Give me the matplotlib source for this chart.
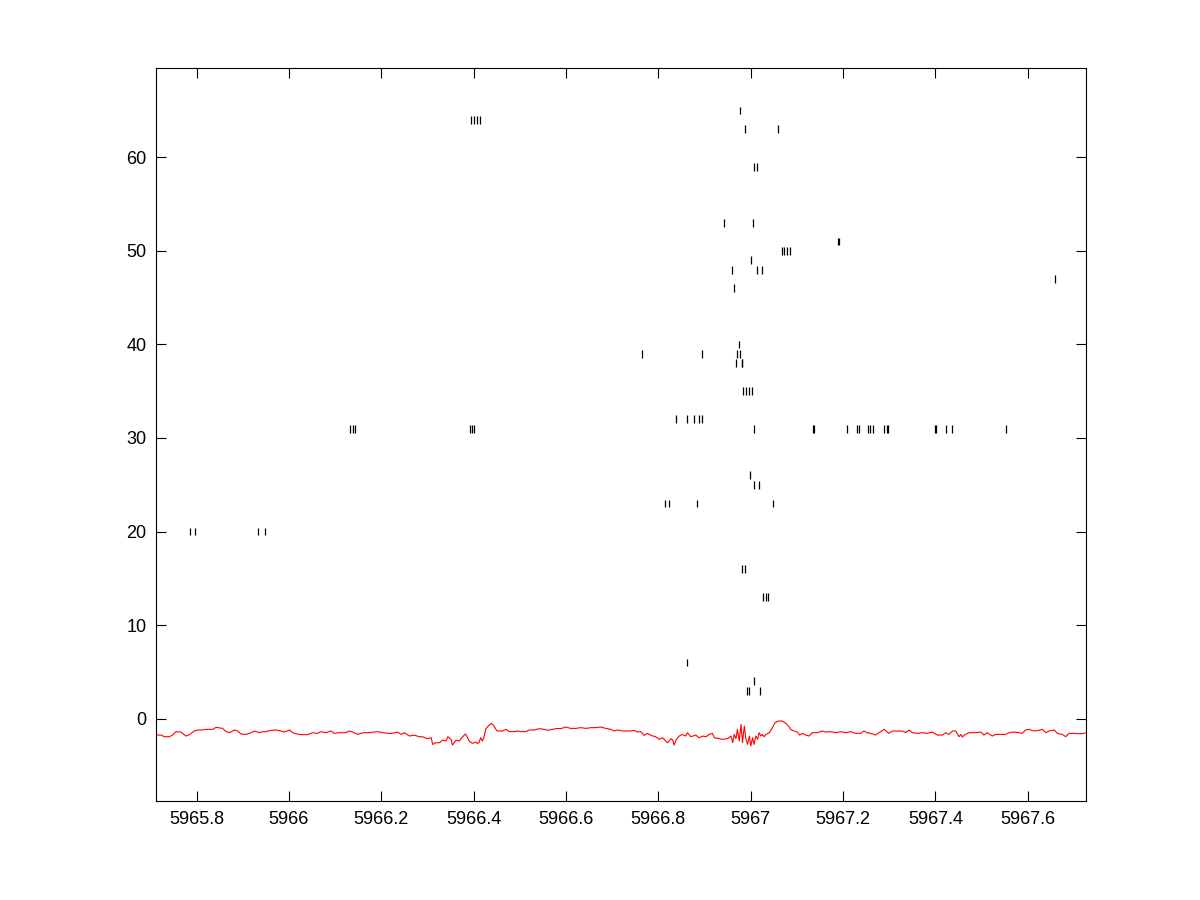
import matplotlib
matplotlib.use("Agg")
import matplotlib.pyplot as plt
from matplotlib.ticker import FuncFormatter

# Red spectrum trace (wavelength, value)
spec_w = [
    5965.712, 5965.723, 5965.730, 5965.741, 5965.748, 5965.755, 5965.766, 5965.777, 5965.784, 5965.795,
    5965.802, 5965.813, 5965.820, 5965.835, 5965.842, 5965.856, 5965.864, 5965.871, 5965.882, 5965.889,
    5965.896, 5965.907, 5965.918, 5965.925, 5965.936, 5965.943, 5965.950, 5965.961, 5965.972, 5965.983,
    5965.990, 5966.001, 5966.008, 5966.015, 5966.026, 5966.040, 5966.051, 5966.062, 5966.069, 5966.080,
    5966.091, 5966.098, 5966.109, 5966.123, 5966.131, 5966.138, 5966.149, 5966.160, 5966.174, 5966.185,
    5966.192, 5966.203, 5966.214, 5966.224, 5966.235, 5966.243, 5966.250, 5966.261, 5966.271, 5966.282,
    5966.289, 5966.300, 5966.308, 5966.311, 5966.318, 5966.326, 5966.333, 5966.340, 5966.344, 5966.351,
    5966.354, 5966.362, 5966.369, 5966.376, 5966.382,
    5966.387, 5966.390, 5966.397, 5966.405, 5966.408, 5966.412, 5966.415, 5966.419, 5966.423, 5966.426,
    5966.430, 5966.433, 5966.439, 5966.444, 5966.448, 5966.451, 5966.462, 5966.470, 5966.477, 5966.488,
    5966.495, 5966.502, 5966.513, 5966.520, 5966.531, 5966.542, 5966.553, 5966.560, 5966.571, 5966.581,
    5966.589, 5966.599, 5966.610, 5966.621, 5966.632, 5966.643, 5966.654, 5966.664, 5966.675, 5966.686,
    5966.697, 5966.704, 5966.711, 5966.722, 5966.737, 5966.747, 5966.755, 5966.762, 5966.769, 5966.776,
    5966.784, 5966.794, 5966.802, 5966.809, 5966.816, 5966.820, 5966.827, 5966.831, 5966.834, 5966.839,
    5966.845, 5966.852, 5966.859, 5966.863, 5966.870, 5966.881, 5966.888, 5966.896, 5966.903, 5966.910,
    5966.917, 5966.921, 5966.928, 5966.939, 5966.950, 5966.957, 5966.961, 5966.964, 5966.968, 5966.971,
    5966.975, 5966.979, 5966.982, 5966.986, 5966.989, 5966.993, 5966.997, 5967.000, 5967.004, 5967.007,
    5967.011, 5967.015, 5967.018, 5967.022, 5967.025, 5967.029, 5967.033, 5967.040, 5967.047, 5967.053,
    5967.061, 5967.068, 5967.076, 5967.083, 5967.086, 5967.094, 5967.101, 5967.106, 5967.112, 5967.119,
    5967.126, 5967.133, 5967.144, 5967.155, 5967.162, 5967.173, 5967.184, 5967.195, 5967.206, 5967.216,
    5967.227, 5967.238, 5967.245, 5967.252, 5967.263, 5967.270, 5967.281, 5967.289, 5967.299, 5967.307,
    5967.317, 5967.328, 5967.336, 5967.343, 5967.350, 5967.361, 5967.372, 5967.382, 5967.393, 5967.404,
    5967.415, 5967.422, 5967.429, 5967.437, 5967.444, 5967.451, 5967.455, 5967.458, 5967.465, 5967.473,
    5967.487, 5967.498, 5967.505, 5967.512, 5967.523, 5967.530, 5967.541, 5967.552, 5967.559, 5967.570,
    5967.581, 5967.588, 5967.595, 5967.603, 5967.613, 5967.624, 5967.632, 5967.639, 5967.646, 5967.657,
    5967.664, 5967.675, 5967.682, 5967.689, 5967.700, 5967.707, 5967.718, 5967.726,
]
spec_v = [
    -1.75, -1.75, -1.93, -1.93, -1.75, -1.39, -1.43, -1.86, -1.71, -1.32,
    -1.21, -1.21, -1.14, -1.14, -0.93, -1.04, -1.39, -1.50, -1.21, -1.32,
    -1.64, -1.68, -1.50, -1.32, -1.50, -1.39, -1.39, -1.25, -1.21, -1.32,
    -1.43, -1.21, -1.50, -1.61, -1.71, -1.71, -1.50, -1.57, -1.39, -1.50,
    -1.32, -1.57, -1.50, -1.50, -1.32, -1.43, -1.68, -1.50, -1.50, -1.43,
    -1.39, -1.50, -1.57, -1.57, -1.43, -1.68, -1.50, -1.86, -1.75, -1.93,
    -1.93, -2.14, -2.04, -2.75, -2.57, -2.57, -2.29, -2.39, -1.93, -2.21,
    -2.82, -2.29, -2.39, -1.93, -1.64,
    -2.04, -2.39, -2.64, -2.50, -2.68, -2.50, -2.04, -2.39, -1.86, -1.14,
    -0.86, -0.71, -0.50, -0.79, -1.14, -1.32, -1.32, -1.14, -1.39, -1.39,
    -1.32, -1.39, -1.39, -1.21, -1.21, -1.07, -1.14, -1.25, -1.14, -1.04,
    -1.07, -0.89, -1.04, -1.04, -0.96, -1.04, -0.96, -0.96, -0.89, -1.04,
    -1.14, -1.32, -1.21, -1.32, -1.32, -1.25, -1.43, -1.39, -1.79, -1.57,
    -1.79, -1.93, -2.21, -2.04, -2.39, -2.57, -2.14, -2.29, -2.82, -2.21,
    -1.86, -1.68, -1.86, -1.50, -1.93, -1.75, -2.04, -1.86, -1.93, -1.68,
    -1.57, -2.04, -2.11, -2.21, -2.14, -1.86, -2.57, -1.68, -2.14, -1.14,
    -2.39, -0.61, -2.57, -0.79, -2.04, -2.75, -1.86, -2.93, -2.04, -2.75,
    -1.86, -2.21, -1.50, -1.86, -1.68, -1.93, -1.68, -1.50, -0.96, -0.40,
    -0.25, -0.25, -0.50, -0.86, -1.14, -1.32, -1.43, -1.75, -1.57, -1.75,
    -1.86, -1.50, -1.50, -1.32, -1.43, -1.39, -1.50, -1.39, -1.50, -1.39,
    -1.57, -1.57, -1.32, -1.50, -1.61, -1.75, -1.39, -1.14, -1.57, -1.32,
    -1.32, -1.32, -1.50, -1.21, -1.50, -1.57, -1.50, -1.57, -1.43, -1.75,
    -1.75, -1.50, -1.68, -1.32, -1.32, -1.93, -1.68, -1.96, -1.68, -1.50,
    -1.50, -1.43, -1.75, -1.50, -1.86, -1.68, -1.68, -1.68, -1.50, -1.43,
    -1.50, -1.57, -1.21, -1.14, -1.32, -1.25, -1.14, -1.50, -1.32, -1.21,
    -1.57, -1.68, -1.93, -1.57, -1.57, -1.61, -1.61, -1.50,
]

# Line-list marks: wavelength and row index
mark_w = [
    5966.977,
    5966.394, 5966.400, 5966.407, 5966.413,
    5966.987, 5967.059,
    5967.007, 5967.013,
    5966.942, 5967.005,
    5967.190, 5967.192,
    5967.068, 5967.073, 5967.079, 5967.084,
    5967.001,
    5966.959, 5967.014, 5967.024,
    5967.658,
    5966.964,
    5966.974,
    5966.764, 5966.894, 5966.970, 5966.976,
    5966.968, 5966.980, 5966.982,
    5966.983, 5966.990, 5966.996, 5967.003,
    5966.838, 5966.861, 5966.878, 5966.888, 5966.894,
    5966.132, 5966.138, 5966.143, 5966.391, 5966.396, 5966.401, 5967.007,
    5967.135, 5967.137, 5967.209, 5967.230, 5967.234, 5967.254, 5967.259, 5967.265,
    5967.288, 5967.295, 5967.297, 5967.398, 5967.402, 5967.423, 5967.436, 5967.552,
    5966.998,
    5967.007, 5967.018,
    5966.814, 5966.822, 5966.884, 5967.048,
    5965.786, 5965.796, 5965.933, 5965.947,
    5966.981, 5966.988,
    5967.026, 5967.032, 5967.037,
    5966.863,
    5967.007,
    5966.992, 5966.997, 5967.020,
]
mark_row = [
    65,
    64, 64, 64, 64,
    63, 63,
    59, 59,
    53, 53,
    51, 51,
    50, 50, 50, 50,
    49,
    48, 48, 48,
    47,
    46,
    40,
    39, 39, 39, 39,
    38, 38, 38,
    35, 35, 35, 35,
    32, 32, 32, 32, 32,
    31, 31, 31, 31, 31, 31, 31,
    31, 31, 31, 31, 31, 31, 31, 31,
    31, 31, 31, 31, 31, 31, 31, 31,
    26,
    25, 25,
    23, 23, 23, 23,
    20, 20, 20, 20,
    16, 16,
    13, 13, 13,
    6,
    4,
    3, 3, 3,
]

x_ticks = [5965.8, 5966.0, 5966.2, 5966.4, 5966.6, 5966.8, 5967.0, 5967.2, 5967.4, 5967.6]
y_ticks = [0, 10, 20, 30, 40, 50, 60]

plt.rcParams['font.family'] = ['Liberation Sans', 'DejaVu Sans']

fig = plt.figure(figsize=(12, 9), dpi=100)
ax = fig.add_axes([0.13, 0.11, 0.775, 0.815])

ax.plot(spec_w, spec_v, color='red', linewidth=0.8)
half = 0.42
ax.vlines(mark_w, [r - half for r in mark_row], [r + half for r in mark_row],
          colors='black', linewidth=0.9)

ax.set_xlim(5965.712, 5967.726)
ax.set_ylim(-8.8, 69.6)
ax.set_xticks(x_ticks)
ax.set_yticks(y_ticks)
ax.xaxis.set_major_formatter(FuncFormatter(lambda v, p: '%g' % round(v, 1)))
ax.tick_params(direction='in', length=7, width=0.8, top=True, right=True,
               labelsize=13, pad=7)
for s in ax.spines.values():
    s.set_linewidth(0.8)

fig.savefig('out.png', dpi=100)
